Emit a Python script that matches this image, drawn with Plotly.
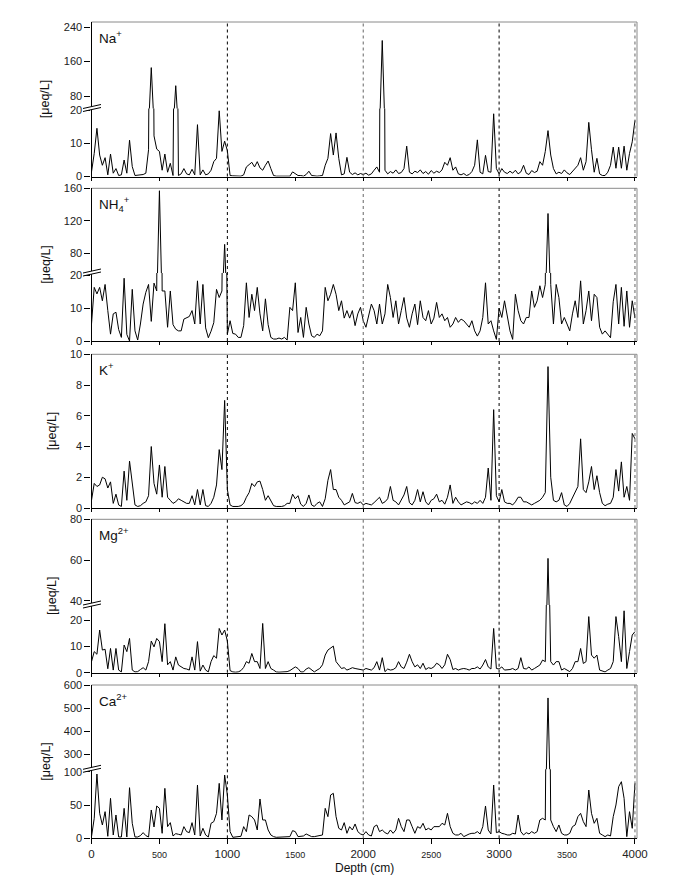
import plotly.graph_objects as go

W, H = 686, 882

# ---------------- data ----------------
depth_cm = list(range(0, 4001, 20))

na = [
    1.4, 7, 14.6, 6.5, 3.4, 5.7, 0.5, 6.8, 1, 2.4,
    0.3, 0.5, 5, 1, 11, 3, 0.3, 0.4, 0.5, 0.6,
    1, 8.1, 146, 12.3, 8.3, 7.6, 1.9, 6.8, 1.3, 4,
    0.3, 104, 0.3, 0.8, 2.4, 0.8, 0.5, 2.2, 0.5, 15.7,
    0.5, 2, 0.5, 0.8, 1.9, 4.5, 5.5, 19.9, 7.6, 10.7,
    7.8, 0.3, 0.2, 0.1, 0.2, 0.1, 0.5, 2.9, 3.6, 4.3,
    2.9, 4.5, 2.6, 1.9, 3.4, 4.7, 2.4, 0.3, 0.1, 0.1,
    0.1, 0.1, 0.1, 0.1, 1.4, 0.8, 0.3, 0.3, 0.1, 0.6,
    1.6, 0.3, 0.1, 0.1, 0.2, 0.3, 3.4, 5.5, 13, 6.5,
    13.2, 5.5, 0.5, 0.8, 5.8, 1.3, 0.6, 1.1, 0.5, 0.9,
    0.6, 1.0, 0.4, 0.8, 1.9, 2.9, 1.3, 209, 1.9, 0.8,
    1.5, 1.0, 2.0, 0.9, 1.2, 2.4, 9.2, 1.3, 0.8, 1.6,
    1.2, 2.0, 0.9, 1.5, 0.7, 1.8, 1.0, 1.6, 1.2, 2.0,
    4.3, 3.4, 5.7, 1.9, 2.9, 0.8, 0.5, 0.9, 0.3, 0.6,
    1.5, 3.4, 11.1, 1.3, 0.8, 6.4, 1.5, 1.3, 19, 2.4,
    0.8, 2.4, 1.3, 0.9, 1.6, 1.0, 1.9, 0.8, 1.4, 3.4,
    1.0, 0.6, 1.8, 1.2, 1.6, 4.5, 3.4, 7.6, 13.9, 6.5,
    2.4, 0.8, 1.3, 0.9, 2.0, 1.1, 0.6, 1.5, 2.4, 3.4,
    5.7, 1.9, 4.5, 16.4, 8.1, 1.3, 5.5, 0.8, 0.3, 0.3,
    1.3, 3.4, 8.9, 2.5, 8.9, 2.5, 9.2, 1.9, 7, 10.5,
    17,
]

nh4 = [
    5.2, 16.4, 14.4, 16.4, 12.3, 17.3, 9.3, 2.1, 8.3, 8.8,
    3.5, 1.1, 19.2, 2, 0, 15.8, 3.1, 0.3, 5.2, 11.3,
    14.9, 17.3, 6, 17.7, 15.3, 157, 15.3, 15.3, 4.2, 15.3,
    5, 3.6, 3.1, 3.1, 6.7, 7.1, 7.5, 9.3, 5.2, 18.4,
    5.2, 17.3, 4, 1, 3, 5.6, 15.8, 13.3, 15.3, 91,
    2.1, 6.2, 2.3, 2.1, 1.1, 1.1, 4.7, 17.8, 7.2, 14.3,
    9.3, 16.4, 8.3, 3.1, 12.9, 5, 1.1, 0.6, 0.6, 0.9,
    0.6, 1.1, 0.3, 10.3, 9.3, 17.8, 2.6, 7.2, 1.1, 10.3,
    5.2, 1.6, 1.1, 2.1, 1.6, 3.1, 16.4, 12.3, 14.3, 17.3,
    14.3, 9.3, 12.3, 7, 9.3, 7, 9.3, 4.7, 8.3, 10.3,
    6.2, 4.2, 8.3, 11.3, 9.3, 5.2, 11.3, 5.2, 8.3, 17.3,
    13.3, 7.2, 12.3, 5.2, 9.3, 13.3, 7, 4.2, 8.3, 11.3,
    5, 12.3, 7.2, 6.2, 9.3, 5.2, 7, 11.8, 7.2, 8.3,
    6.2, 7.2, 4.2, 5.2, 7.2, 5.7, 6.7, 6.2, 5.2, 4.2,
    6.2, 3.1, 1.5, 3.1, 7.2, 17.8, 5.2, 6.2, 3.1, 0.5,
    10, 7.2, 12.3, 7.2, 3.1, 0.5, 14.3, 9.3, 6.2, 5.2,
    7.2, 7.2, 15.3, 10.3, 12.3, 16.9, 13.3, 17.3, 129, 17.3,
    5.2, 17.3, 13.3, 5.2, 7.2, 5.2, 3.1, 8.3, 12.3, 7.2,
    18.4, 5.2, 9.3, 15.3, 6.2, 14.3, 13.3, 4.2, 2.1, 3.1,
    2, 1, 12, 17.3, 5.2, 16.4, 4.5, 15.3, 4.2, 12.3,
    7,
]

k = [
    0.5, 1.6, 1.4, 1.5, 2, 1.9, 1.3, 1.7, 0.3, 0.9,
    0.2, 0.1, 2.4, 0.5, 3.05, 1.6, 0.2, 0.1, 0.15, 0.3,
    0.4, 0.8, 4, 1.6, 0.9, 2.8, 0.7, 2.7, 0.7, 0.5,
    0.3, 0.4, 0.6, 0.5, 0.4, 0.3, 0.3, 0.8, 0.2, 1.2,
    0.2, 1.2, 0.15, 0.1, 0.3, 0.7, 1.5, 3.8, 2.5, 7,
    1.2, 0.2, 0.1, 0.1, 0.1, 0.15, 0.3, 0.7, 1, 1.6,
    1.4, 1.7, 1.75, 1.2, 0.5, 0.8, 0.5, 0.15, 0.1, 0.1,
    0.1, 0.15, 0.3, 0.3, 0.9, 0.6, 0.8, 0.25, 0.1, 0.3,
    0.85, 0.2, 0.1, 0.3, 0.4, 0.1, 0.6, 1.8, 2.5, 1.2,
    1.2, 0.7, 0.5, 0.2, 0.3, 0.4, 0.95, 0.35, 0.3, 0.4,
    0.2, 0.3, 0.25, 0.2, 0.35, 0.5, 0.7, 0.3, 0.4, 0.6,
    1.4, 0.5, 0.4, 0.2, 0.55, 0.85, 1.4, 0.35, 0.2, 0.5,
    1.2, 0.4, 1.06, 0.4, 0.2, 0.5, 0.6, 0.9, 0.4, 0.5,
    0.25, 0.7, 1.5, 0.3, 0.7, 0.4, 0.2, 0.3, 0.4, 0.35,
    0.25, 0.4, 0.3, 0.5, 0.3, 0.7, 2.6, 0.5, 6.4, 0.8,
    0.4, 1.2, 0.4, 0.3, 0.3, 0.2, 0.4, 0.7, 0.7, 0.4,
    0.4, 0.3, 0.2, 0.3, 0.4, 0.5, 0.7, 1, 9.2, 2,
    0.5, 0.4, 0.5, 1, 0.2, 0.1, 0.3, 0.65, 1.06, 1.4,
    4.5, 1.2, 1.0, 1.7, 2.7, 1.2, 2.1, 1.0, 0.3, 0.15,
    0.25, 0.3, 0.7, 2.5, 1.1, 3, 0.7, 1.4, 0.5, 4.85,
    4.5,
]

mg = [
    4.2, 8, 7, 16.2, 8.6, 8.9, 1.5, 9.2, 1, 9.2,
    1, 0.3, 10.5, 8, 13, 1, 0.3, 0.4, 1.2, 1.9,
    1, 4.2, 12, 9.8, 13, 11.8, 4.2, 18.6, 3, 4.2,
    1, 6, 2.9, 2.2, 1.6, 1.4, 1, 6, 1, 11.8,
    0.6, 2.9, 1, 0.3, 4.2, 6.5, 5.5, 16.8, 14.3, 16.2,
    12, 0.8, 0.3, 0.2, 0.3, 0.8, 2, 4.2, 3.6, 7.3,
    4.2, 4.2, 1.6, 18.7, 1.6, 4.2, 1.6, 1, 0.3, 0.2,
    0.2, 0.3, 0.4, 0.8, 1.6, 2.2, 1.6, 0.3, 0.3, 1.4,
    1.9, 1, 0.3, 1, 1.6, 3, 6.7, 8.6, 9.2, 10.1,
    4.2, 2.9, 1.6, 1.9, 1, 1.4, 1.9, 1.6, 1.4, 1.2,
    1, 1.6, 1.2, 1, 1.9, 4.2, 1, 5.7, 0.4, 1.4,
    1, 1.2, 1.9, 4.2, 2.2, 1.6, 4, 7, 4.2, 2.2,
    3, 1.6, 3.6, 1.2, 1.9, 1.6, 2.2, 3.6, 3, 1.6,
    3, 7, 5, 1.2, 1.6, 1, 1.4, 1.6, 1.4, 1,
    1.6, 1.6, 2.2, 1.4, 2.9, 5, 2.2, 1.4, 16.8, 1.6,
    1.4, 2.2, 1, 1, 1.2, 1.6, 1, 1.6, 5.7, 1.6,
    1.4, 2.2, 1, 1.6, 2.2, 2.9, 4.8, 4.2, 60.8, 4.2,
    2.9, 4.2, 4.2, 1, 1.6, 1, 0.4, 1.6, 4.2, 4.2,
    9.2, 3.5, 4.2, 21.3, 6.7, 5.5, 6.7, 1, 0.5, 0.3,
    1, 1.6, 4.2, 21.3, 13.7, 4.2, 23.5, 1.6, 8, 14.3,
    15.6,
]

ca = [
    2.5, 30, 96.5, 37.5, 20, 40, 3, 60, 5, 35,
    2, 2, 45, 2, 76, 22.5, 2, 2, 4, 8.5,
    4, 2, 42.5, 17, 48.5, 45, 7.5, 75, 17.5, 23.5,
    3.5, 7, 6, 5, 17.5, 10, 8.5, 23.5, 5, 80,
    3.5, 15, 5, 2, 22.5, 25, 37.5, 82.5, 27.5, 95,
    65, 10, 1.5, 2, 2, 3, 17.5, 10, 35, 32.5,
    27.5, 12.5, 59, 27.5, 27.5, 12.5, 5, 2.5, 1.5, 1.5,
    1.5, 2, 2, 2.5, 11.5, 10, 2.5, 2.5, 3.5, 6.5,
    5, 2.5, 2.5, 3, 4, 5, 45, 32.5, 65, 67.5,
    32.5, 15, 12.5, 23.5, 7.5, 17.5, 12.5, 21.5, 10, 6.5,
    5, 10, 5, 3.5, 17.5, 20, 10, 12.5, 8.5, 6.5,
    12.5, 7.5, 12.5, 30, 17.5, 10, 27.5, 27.5, 17.5, 7.5,
    17.5, 15, 22.5, 12.5, 15, 12.5, 17.5, 17.5, 17.5, 22.5,
    20, 37.5, 17.5, 7.5, 5, 5, 7.5, 2.5, 5, 6.5,
    7.5, 7.5, 10, 6.5, 17.5, 48.5, 12.5, 6.5, 80, 8.5,
    10, 7.5, 6.5, 5, 5, 7.5, 6.5, 35, 10, 5,
    8.5, 6.5, 10, 7.5, 10, 27.5, 30, 27.5, 544, 27.5,
    17.5, 10, 20, 7.5, 5, 5, 7.5, 17.5, 20, 32.5,
    37.5, 25, 17.5, 72.5, 37.5, 22.5, 30, 7.5, 5, 2.5,
    5, 3.5, 32.5, 50, 77.5, 85, 60, 2.5, 40, 15,
    82.5,
]

series_labels = ["Na<sup>+</sup>", "NH<sub>4</sub><sup>+</sup>", "K<sup>+</sup>",
                 "Mg<sup>2+</sup>", "Ca<sup>2+</sup>"]
series_values = [na, nh4, k, mg, ca]

x_tickvals = [0, 500, 1000, 1500, 2000, 2500, 3000, 3500, 4000]
x_ticklabels = ["0", "500", "1000", "1500", "2000", "2500", "3000", "3500", "4000"]
boundaries = [1000, 2000, 3000, 4000]

# y-axis segments: (lower range, lower ticks, upper range, upper ticks)
y_segments = [
    ([0, 20.6], [0, 10, 20], [51, 252], [80, 160, 240]),
    ([0, 20.8], [0, 10, 20], [55.8, 160], [80, 120, 160]),
    ([0, 10], [0, 2, 4, 6, 8, 10], None, None),
    ([0, 25.7], [0, 10, 20], [37.9, 80], [40, 60, 80]),
    ([0, 103.6], [0, 50, 100], [235.2, 600], [300, 400, 500, 600]),
]

# ---------------- layout geometry (pixels) ----------------
X_LEFT, X_RIGHT = 91.5, 637
panel_px = [  # top, bottom, break
    (22, 176.5, 108.5),
    (188.3, 341, 273),
    (354.3, 508, None),
    (519.3, 672.7, 605),
    (685, 838.3, 769.3),
]
title_x_px = [45, 46, 52, 52, 46]
X_RANGE = [0, 4015]


def fx(px):
    return px / W


def fy(py):
    return 1 - py / H


FONT = "Arial, Liberation Sans, sans-serif"
TICKFONT = dict(family=FONT, size=11, color="#222")

fig = go.Figure()
layout = dict(
    width=W, height=H, template="none",
    margin=dict(l=0, r=0, t=0, b=0),
    paper_bgcolor="white", plot_bgcolor="rgba(0,0,0,0)",
    font=dict(family=FONT, color="#222"),
    showlegend=False,
)
shapes, annotations = [], []

yi = 1
for pi, (vals, lab, seg, (top, bot, brk)) in enumerate(
        zip(series_values, series_labels, y_segments, panel_px)):
    xn = pi + 1
    xname = "x" if xn == 1 else f"x{xn}"
    xkey = "xaxis" if xn == 1 else f"xaxis{xn}"
    low_rng, low_ticks, up_rng, up_ticks = seg

    ylow = yi
    yi += 1
    ylow_name = "y" if ylow == 1 else f"y{ylow}"
    ylow_key = "yaxis" if ylow == 1 else f"yaxis{ylow}"

    last = (pi == len(series_values) - 1)
    layout[xkey] = dict(
        domain=[fx(X_LEFT), fx(X_RIGHT)], anchor=ylow_name, range=X_RANGE,
        showgrid=False, zeroline=False, showline=True, linecolor="black", linewidth=1,
        ticks="outside", ticklen=5 if last else 3, tickcolor="black", tickwidth=1,
        tickvals=x_tickvals,
        ticktext=[t if int(t) % 1000 == 0 else
                  f"<span style='font-size:9px'>{t}</span>" for t in x_ticklabels],
        showticklabels=last, tickfont=dict(family=FONT, size=11.5, color="#222"),
        automargin=False,
    )
    if xn > 1:
        layout[xkey]["matches"] = "x"

    low_top = brk if brk is not None else top
    layout[ylow_key] = dict(
        domain=[fy(bot), fy(low_top)], anchor=xname, range=low_rng,
        tickvals=low_ticks, showgrid=False, zeroline=False,
        showline=True, linecolor="black", linewidth=1.2,
        ticks="outside", ticklen=6, tickcolor="black", tickwidth=1,
        tickfont=TICKFONT, automargin=False,
    )
    fig.add_trace(go.Scatter(x=depth_cm, y=vals, mode="lines", xaxis=xname, yaxis=ylow_name,
                             line=dict(color="black", width=1), hoverinfo="skip"))

    if up_rng is not None:
        yup = yi
        yi += 1
        yup_name = f"y{yup}"
        yup_key = f"yaxis{yup}"
        layout[yup_key] = dict(
            domain=[fy(brk), fy(top)], anchor=xname, range=up_rng,
            tickvals=up_ticks, showgrid=False, zeroline=False,
            showline=True, linecolor="black", linewidth=1.2,
            ticks="outside", ticklen=6, tickcolor="black", tickwidth=1,
            tickfont=TICKFONT, automargin=False,
        )
        fig.add_trace(go.Scatter(x=depth_cm, y=vals, mode="lines", xaxis=xname, yaxis=yup_name,
                                 line=dict(color="black", width=1), hoverinfo="skip"))
        # axis break marks
        xa, xb = 83, 101
        shapes.append(dict(type="path", xref="paper", yref="paper", layer="above",
                           path=(f"M {fx(xa)} {fy(brk)} L {fx(xb)} {fy(brk - 4)} "
                                 f"L {fx(xb)} {fy(brk - 1)} L {fx(xa)} {fy(brk + 3)} Z"),
                           fillcolor="white", line=dict(width=0)))
        for off in (0, 3):
            shapes.append(dict(type="line", xref="paper", yref="paper", layer="above",
                               x0=fx(xa), y0=fy(brk + off), x1=fx(xb), y1=fy(brk - 4 + off),
                               line=dict(color="black", width=1)))

    # frame top and right
    shapes.append(dict(type="line", xref="paper", yref="paper", layer="below",
                       x0=fx(X_LEFT), x1=fx(X_RIGHT), y0=fy(top), y1=fy(top),
                       line=dict(color="#8a8a8a", width=1)))
    shapes.append(dict(type="line", xref="paper", yref="paper", layer="below",
                       x0=fx(X_RIGHT), x1=fx(X_RIGHT), y0=fy(top), y1=fy(bot),
                       line=dict(color="#8a8a8a", width=1)))

    # dashed boundaries
    for b in boundaries:
        col = "black" if b in (1000, 3000) else "#666"
        shapes.append(dict(type="line", xref=xname, yref="paper", layer="above",
                           x0=b, x1=b, y0=fy(bot), y1=fy(top),
                           line=dict(color=col, width=1, dash="3px,3px")))

    # panel label
    annotations.append(dict(text=lab, xref="paper", yref="paper",
                            x=fx(97), y=fy(top + 4), xanchor="left", yanchor="top",
                            showarrow=False, font=dict(family=FONT, size=13.5, color="#111")))
    # y title
    annotations.append(dict(text="[μeq/L]", xref="paper", yref="paper",
                            x=fx(title_x_px[pi]), y=fy((top + bot) / 2),
                            xanchor="center", yanchor="middle", textangle=-90,
                            showarrow=False, font=dict(family=FONT, size=12.5, color="#111")))

annotations.append(dict(text="Depth (cm)", xref="paper", yref="paper",
                        x=fx((X_LEFT + X_RIGHT) / 2), y=fy(868),
                        xanchor="center", yanchor="middle", showarrow=False,
                        font=dict(family=FONT, size=12, color="#111")))

layout["shapes"] = shapes
layout["annotations"] = annotations
fig.update_layout(**layout)
fig.write_html("out.html")
